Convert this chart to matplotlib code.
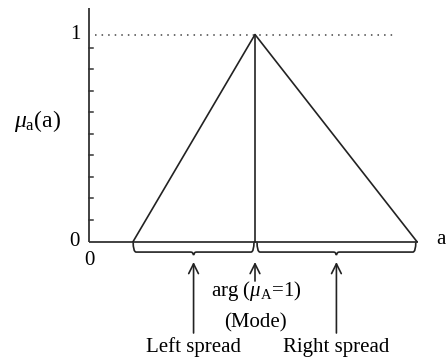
import numpy as np
import matplotlib
matplotlib.use("Agg")
import matplotlib.pyplot as plt
from matplotlib.path import Path
from matplotlib.patches import PathPatch

plt.rcParams['font.family'] = ['Liberation Serif', 'DejaVu Serif']
plt.rcParams['mathtext.fontset'] = 'custom'
plt.rcParams['mathtext.rm'] = 'Liberation Serif'
plt.rcParams['mathtext.it'] = 'Liberation Serif:italic'

# triangular membership function
a_vals = [1.34, 5.0, 9.86]
mu_vals = [0.0, 1.0, 0.0]
x_end = 9.9
y_top = 1.126

# minor marks on the membership axis
y_ticks = [0.104, 0.208, 0.312, 0.417, 0.521, 0.625, 0.729, 0.833, 0.937]

# braces under the axis (start, end)
left_spread = (1.34, 4.97)
right_spread = (5.06, 9.83)

arg_label = r'arg ($\mu_{\mathrm{A}}$=1)'
mode_label = '(Mode)'
spread_labels = ['Left spread', 'Right spread']

col = '#222222'
lw = 1.2

fig = plt.figure(figsize=(4.46, 3.59), dpi=100)
ax = fig.add_axes([0, 0, 1, 1])
ax.set_xlim(-2.658, 10.736)
ax.set_ylim(-0.5676, 1.1667)
ax.axis('off')

# axes
ax.plot([0, 0], [0, y_top], color='#333333', lw=1.3, solid_capstyle='butt')
ax.plot([0, x_end], [0, 0], color='#333333', lw=1.3, solid_capstyle='butt')
for t in y_ticks:
    ax.plot([0, 0.12], [t, t], color='#333333', lw=1.1)

# dotted line at mu = 1
ax.plot([0.2, 9.25], [1, 1], color='#444444', lw=1.1, linestyle=(0, (1, 3.3)))

# triangle and mode line
ax.plot(a_vals, mu_vals, color=col, lw=lw)
ax.plot([a_vals[1], a_vals[1]], [0, 1], color=col, lw=lw)


def brace(x0, x1, yb=-0.051, ytip=-0.066, dx=0.09):
    xm = (x0 + x1) / 2
    verts = [(x0, 0), (x0, yb), (x0 + dx, yb),
             (xm - dx, yb), (xm, yb), (xm, ytip),
             (xm, yb), (xm + dx, yb),
             (x1 - dx, yb), (x1, yb), (x1, 0)]
    codes = [Path.MOVETO, Path.CURVE3, Path.CURVE3,
             Path.LINETO, Path.CURVE3, Path.CURVE3,
             Path.CURVE3, Path.CURVE3,
             Path.LINETO, Path.CURVE3, Path.CURVE3]
    ax.add_patch(PathPatch(Path(verts, codes), fill=False, color=col, lw=lw))
    return xm


xl = brace(*left_spread)
xr = brace(*right_spread)

arrow = dict(arrowstyle='->,head_length=0.7,head_width=0.35', color=col, lw=lw,
             shrinkA=0, shrinkB=0)
ax.annotate('', xy=(xl, -0.099), xytext=(xl, -0.442), arrowprops=arrow)
ax.annotate('', xy=(xr, -0.099), xytext=(xr, -0.442), arrowprops=arrow)
ax.annotate('', xy=(a_vals[1], -0.099), xytext=(a_vals[1], -0.191), arrowprops=arrow)

fs = 15
ax.text(5.03, -0.263, arg_label, ha='center', va='baseline', fontsize=fs)
ax.text(5.02, -0.413, mode_label, ha='center', va='baseline', fontsize=fs)
ax.text(xl, -0.534, spread_labels[0], ha='center', va='baseline', fontsize=fs)
ax.text(xr, -0.534, spread_labels[1], ha='center', va='baseline', fontsize=fs)

ax.text(-0.405, 1.0, '1', ha='center', va='center', fontsize=fs)
ax.text(-0.435, 0.0, '0', ha='center', va='center', fontsize=fs)
ax.text(0.015, -0.09, '0', ha='center', va='center', fontsize=fs)
ax.text(-1.52, 0.581, r'$\mu_{\mathrm{a}}$(a)', ha='center', va='center', fontsize=17)
ax.text(10.59, 0.012, 'a', ha='center', va='center', fontsize=fs)

fig.savefig('out.png', dpi=100)
